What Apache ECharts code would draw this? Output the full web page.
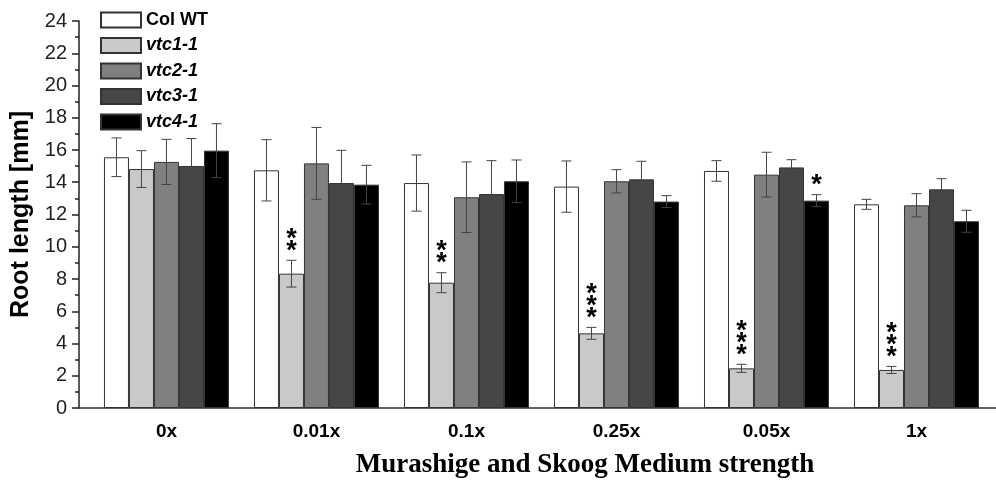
<!DOCTYPE html>
<html>
<head>
<meta charset="utf-8">
<script src="https://cdn.jsdelivr.net/npm/echarts@6/dist/echarts.min.js"></script>
<style>html,body{margin:0;padding:0;background:#fff;}#c{width:996px;height:480px;}</style>
</head>
<body>
<div id="c"></div>
<script>
const categories = ['0x', '0.01x', '0.1x', '0.25x', '0.05x', '1x'];
const yTicks = [0, 2, 4, 6, 8, 10, 12, 14, 16, 18, 20, 22, 24];
const seriesNames = ['Col WT', 'vtc1-1', 'vtc2-1', 'vtc3-1', 'vtc4-1'];
const colWT = [15.55, 14.74, 13.95, 13.73, 14.70, 12.63];
const colWTErr = [1.20, 1.90, 1.74, 1.59, 0.64, 0.31];
const vtc1 = [14.82, 8.33, 7.77, 4.63, 2.46, 2.36];
const vtc1Err = [1.14, 0.83, 0.62, 0.37, 0.25, 0.22];
const vtc2 = [15.26, 15.17, 13.07, 14.06, 14.47, 12.57];
const vtc2Err = [1.40, 2.23, 2.19, 0.72, 1.39, 0.72];
const vtc3 = [15.01, 13.95, 13.27, 14.18, 14.92, 13.56];
const vtc3Err = [1.70, 2.03, 2.07, 1.12, 0.48, 0.66];
const vtc4 = [15.96, 13.85, 14.06, 12.80, 12.86, 11.58];
const vtc4Err = [1.67, 1.20, 1.32, 0.37, 0.37, 0.68];
const sigWT = ['', '', '', '', '', ''];
const sigVtc1 = ['', '**', '**', '***', '***', '***'];
const sigVtc2 = ['', '', '', '', '', ''];
const sigVtc3 = ['', '', '', '', '', ''];
const sigVtc4 = ['', '', '', '', '*', ''];

const values = [colWT, vtc1, vtc2, vtc3, vtc4];
const errs = [colWTErr, vtc1Err, vtc2Err, vtc3Err, vtc4Err];
const sigs = [sigWT, sigVtc1, sigVtc2, sigVtc3, sigVtc4];
const colors = ['#ffffff', '#c9c9c9', '#808080', '#464646', '#000000'];
const barWidth = 25;
const sansFont = '"Liberation Sans", Arial, sans-serif';

const chart = echarts.init(document.getElementById('c'));
const series = [];
values.forEach((vals, s) => {
  series.push({
    name: seriesNames[s],
    type: 'bar',
    barWidth: barWidth,
    barGap: '0%',
    data: vals.map((v, i) => [i, v]),
    itemStyle: { color: colors[s], borderColor: '#333', borderWidth: 1 },
    z: 2
  });
});
values.forEach((vals, s) => {
  series.push({
    name: 'err' + s,
    type: 'custom',
    data: vals.map((v, i) => [i, v, errs[s][i], i]),
    z: 5,
    renderItem: function (params, api) {
      const idx = api.value(3);
      const v = api.value(1), e = api.value(2);
      const off = (s - 2) * barWidth;
      const top = api.coord([api.value(0), v + e]);
      const bot = api.coord([api.value(0), v - e]);
      const x = top[0] + off;
      const cap = 5;
      const st = { stroke: '#444', lineWidth: 1 };
      const children = [
        { type: 'line', shape: { x1: x, y1: top[1], x2: x, y2: bot[1] }, style: st },
        { type: 'line', shape: { x1: x - cap, y1: top[1], x2: x + cap, y2: top[1] }, style: st },
        { type: 'line', shape: { x1: x - cap, y1: bot[1], x2: x + cap, y2: bot[1] }, style: st }
      ];
      const sg = sigs[s][idx];
      if (sg) {
        children.push({
          type: 'text',
          style: {
            text: sg.split('').join('\n'),
            x: x, y: top[1] - 3,
            align: 'center', verticalAlign: 'bottom',
            font: 'bold 27px ' + sansFont,
            lineHeight: 12,
            fill: '#000'
          }
        });
      }
      return { type: 'group', children: children };
    }
  });
});

chart.setOption({
  animation: false,
  backgroundColor: '#fff',
  title: {
    text: 'Murashige and Skoog Medium strength',
    left: 580, top: 447, textAlign: 'center',
    textStyle: { fontFamily: '"Liberation Serif", "Times New Roman", serif', fontWeight: 'bold', fontSize: 27, color: '#000' }
  },
  legend: {
    data: seriesNames,
    orient: 'vertical',
    left: 95, top: 6,
    itemWidth: 40, itemHeight: 15, itemGap: 7.5,
    icon: 'rect',
    formatter: function (n) { return n === 'Col WT' ? '{n|' + n + '}' : '{i|' + n + '}'; },
    textStyle: {
      rich: {
        n: { fontFamily: sansFont, fontWeight: 'bold', fontSize: 18, color: '#000' },
        i: { fontFamily: sansFont, fontWeight: 'bold', fontStyle: 'italic', fontSize: 18, color: '#000' }
      }
    }
  },
  grid: { left: 79, right: 0, top: 21, bottom: 72, containLabel: false },
  xAxis: {
    type: 'value',
    min: -0.583, max: 5.53,
    splitLine: { show: false },
    axisTick: { show: false },
    axisLine: { onZero: false, lineStyle: { color: '#333', width: 1.5 } },
    axisLabel: {
      customValues: categories.map((c, i) => i),
      formatter: function (v) { return categories[Math.round(v)]; },
      margin: 14,
      fontFamily: sansFont, fontWeight: 'bold', fontSize: 19, color: '#000'
    }
  },
  yAxis: {
    type: 'value',
    min: yTicks[0], max: yTicks[yTicks.length - 1], interval: yTicks[1] - yTicks[0],
    name: 'Root length [mm]',
    nameLocation: 'middle', nameGap: 40,
    nameTextStyle: { fontFamily: sansFont, fontWeight: 'bold', fontSize: 25, color: '#000' },
    splitLine: { show: false },
    axisLine: { show: true, onZero: false, lineStyle: { color: '#222', width: 1.5 } },
    axisTick: { show: true, inside: false, length: 7, lineStyle: { color: '#222', width: 1.5 } },
    minorTick: { show: true, splitNumber: 2, length: 4, lineStyle: { color: '#222', width: 1.5 } },
    axisLabel: { margin: 12, fontFamily: sansFont, fontSize: 20, color: '#222' }
  },
  series: series
});
</script>
</body>
</html>
